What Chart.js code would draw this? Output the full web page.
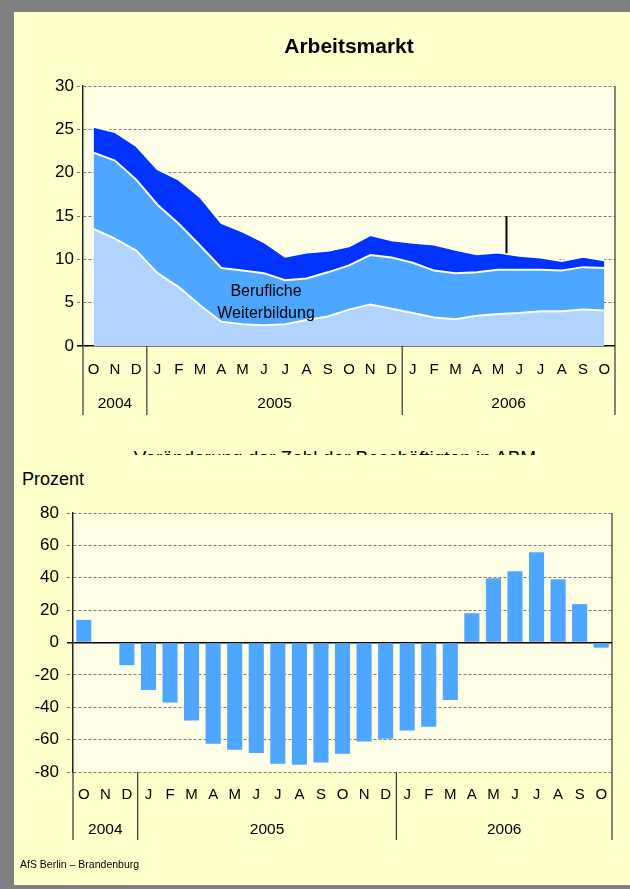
<!DOCTYPE html>
<html>
<head>
<meta charset="utf-8">
<script src="https://cdn.jsdelivr.net/npm/chart.js@4/dist/chart.umd.min.js"></script>
<style>
html,body{margin:0;padding:0;width:630px;height:889px;overflow:hidden;background:#808080;font-family:"Liberation Sans",Arial,sans-serif;}
#frame{position:absolute;left:14px;top:12px;width:616px;height:873px;background:#FFFFCC;}
#c1{position:absolute;left:0;top:0;}
#c2{position:absolute;left:0;top:460px;}
#sub{position:absolute;left:35px;top:450px;width:600px;height:5px;overflow:hidden;text-align:center;font-size:19px;line-height:19px;color:#000;}
#sub span{position:relative;top:-2px;display:block;}
#prozent{position:absolute;left:22px;top:470px;font-size:18px;line-height:18px;color:#000;}
#src{position:absolute;left:20px;top:858px;font-size:10.5px;line-height:12px;color:#000;}
</style>
</head>
<body>
<div id="frame"></div>
<canvas id="c1" width="630" height="430"></canvas>
<div id="sub"><span>Veränderung der Zahl der Beschäftigten in ABM</span></div>
<div id="prozent">Prozent</div>
<canvas id="c2" width="630" height="429"></canvas>
<div id="src">AfS Berlin – Brandenburg</div>
<script>
// ---------- data ----------
const months = ['O','N','D','J','F','M','A','M','J','J','A','S','O','N','D','J','F','M','A','M','J','J','A','S','O'];
const years = ['2004','2005','2006'];
const yearStart = [0, 3, 15];
const yearLength = [3, 12, 10];

// Top chart: cumulative levels (Tausend)
const abmLevel = [13.5,12.4,11.0,8.4,6.8,4.7,2.8,2.5,2.4,2.5,3.0,3.4,4.2,4.8,4.3,3.8,3.3,3.1,3.5,3.7,3.8,4.0,4.0,4.2,4.1];
const abmPlusWeiterbildung = [22.3,21.4,19.2,16.3,14.1,11.6,9.0,8.7,8.4,7.6,7.8,8.5,9.3,10.5,10.2,9.6,8.7,8.4,8.5,8.8,8.8,8.8,8.7,9.1,9.0];
const totalLevel = [25.3,24.7,23.1,20.4,19.2,17.2,14.2,13.2,12.0,10.3,10.8,11.0,11.5,12.8,12.2,11.9,11.7,11.1,10.6,10.8,10.4,10.2,9.8,10.3,9.9];

// Bottom chart: change of ABM participants vs. previous year (%)
const abmChange = [14,0,-14,-29.3,-37.1,-48.2,-62.6,-66.3,-68.2,-74.9,-75.5,-74.2,-68.8,-61.2,-59.5,-54.4,-52.1,-35.5,18.1,39.7,44.0,55.7,39.1,23.7,-3.2];

// annotation (data units)
const bwLabelLines = ['Berufliche','Weiterbildung'];
const bwLabelIndex = 8.1;
const bwLabelValues = [6.25, 3.75];
const leaderIndex = 19.4;
const leaderValues = [15, 10.7];

// ---------- styles ----------
const FONT = '"Liberation Sans", Arial, sans-serif';
const plotBg = '#FFFFE8';
const gridGray = '#7A7A7A';
const lightBlue = '#B0D4FF';
const midBlue = '#4DA6FF';
const darkBlue = '#0033FF';

const isZero = c => c.tick && c.tick.value === 0;

function yScale(min, max, step, width, pad) {
  return {
    min, max,
    afterFit: s => { s.width = width; },
    ticks: {stepSize: step, color: '#000', font: {family: FONT, size: 17}, padding: pad},
    grid: {
      color: c => isZero(c) ? '#000' : gridGray,
      lineWidth: c => isZero(c) ? 1.5 : 1,
      tickLength: 6,
      tickColor: c => isZero(c) ? '#000' : gridGray,
      tickBorderDash: c => isZero(c) ? [] : [3, 2]
    },
    border: {color: '#222', width: 1.5, dash: c => isZero(c) ? [] : [3, 2]}
  };
}

const plotBackground = {
  id: 'plotBackground',
  beforeDraw(chart) {
    const a = chart.chartArea, ctx = chart.ctx;
    ctx.save();
    ctx.fillStyle = plotBg;
    ctx.fillRect(a.left, a.top, a.right - a.left, a.bottom - a.top);
    ctx.restore();
  }
};

function categoryAxis(monthDy, yearDy, sepLen) {
  return {
    id: 'categoryAxis',
    afterDraw(chart) {
      const x = chart.scales.x, a = chart.chartArea, ctx = chart.ctx;
      ctx.save();
      ctx.fillStyle = '#000';
      ctx.textAlign = 'center';
      ctx.textBaseline = 'middle';
      ctx.font = '15px ' + FONT;
      months.forEach((m, i) => ctx.fillText(m, x.getPixelForValue(i), a.bottom + monthDy));
      ctx.font = '15.5px ' + FONT;
      years.forEach((y, k) => ctx.fillText(y, x.getPixelForValue(yearStart[k] + (yearLength[k] - 1) / 2), a.bottom + yearDy));
      ctx.strokeStyle = '#333';
      ctx.lineWidth = 1.2;
      const bounds = yearStart.concat([months.length]);
      bounds.forEach(b => {
        const px = x.getPixelForValue(b - 0.5);
        ctx.beginPath();
        ctx.moveTo(px, b === months.length ? a.top : a.bottom);
        ctx.lineTo(px, a.bottom + sepLen);
        ctx.stroke();
      });
      ctx.restore();
    }
  };
}

const topAnnotations = {
  id: 'topAnnotations',
  afterDatasetsDraw(chart) {
    const x = chart.scales.x, y = chart.scales.y, ctx = chart.ctx;
    ctx.save();
    ctx.fillStyle = '#000';
    ctx.textAlign = 'center';
    ctx.textBaseline = 'middle';
    ctx.font = '16px ' + FONT;
    bwLabelLines.forEach((t, i) => ctx.fillText(t, x.getPixelForValue(bwLabelIndex), y.getPixelForValue(bwLabelValues[i])));
    ctx.strokeStyle = '#000';
    ctx.lineWidth = 2;
    const lx = x.getPixelForValue(leaderIndex);
    ctx.beginPath();
    ctx.moveTo(lx, y.getPixelForValue(leaderValues[0]));
    ctx.lineTo(lx, y.getPixelForValue(leaderValues[1]));
    ctx.stroke();
    ctx.restore();
  }
};

const areaStyle = {pointRadius: 0, borderColor: '#FFFFFF', borderWidth: 2, tension: 0};

new Chart(document.getElementById('c1'), {
  type: 'line',
  data: {
    labels: months,
    datasets: [
      Object.assign({label: 'ABM', data: abmLevel, fill: 'origin', backgroundColor: lightBlue}, areaStyle),
      Object.assign({label: 'Berufliche Weiterbildung', data: abmPlusWeiterbildung, fill: '-1', backgroundColor: midBlue}, areaStyle),
      Object.assign({label: 'Sonstige', data: totalLevel, fill: '-1', backgroundColor: darkBlue}, areaStyle)
    ]
  },
  options: {
    responsive: false,
    animation: false,
    layout: {padding: {left: 0, right: 15, top: 0, bottom: 84}},
    plugins: {
      legend: {display: false},
      tooltip: {enabled: false},
      title: {display: true, fullSize: false, text: 'Arbeitsmarkt', color: '#000',
        font: {family: FONT, size: 21, weight: 'bold'}, padding: {top: 34.4, bottom: 26.4}}
    },
    scales: {
      x: {display: false, offset: true},
      y: yScale(0, 30, 5, 83, 3)
    }
  },
  plugins: [plotBackground, categoryAxis(24, 58, 69), topAnnotations]
});

new Chart(document.getElementById('c2'), {
  type: 'bar',
  data: {
    labels: months,
    datasets: [{label: 'Veränderung ABM (%)', data: abmChange, backgroundColor: midBlue,
      barPercentage: 0.7, categoryPercentage: 1.0}]
  },
  options: {
    responsive: false,
    animation: false,
    layout: {padding: {left: 0, right: 18, top: 53, bottom: 117}},
    plugins: {legend: {display: false}, tooltip: {enabled: false}},
    scales: {
      x: {display: false, offset: true},
      y: yScale(-80, 80, 20, 73, 8)
    }
  },
  plugins: [plotBackground, categoryAxis(23, 58, 68)]
});
</script>
</body>
</html>
